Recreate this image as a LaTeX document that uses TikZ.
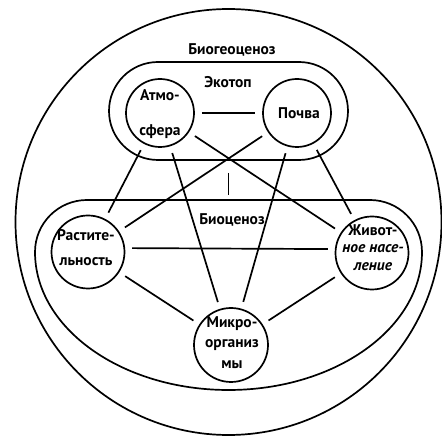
\documentclass[tikz,border=0pt]{standalone}
\usepackage{fontspec}
\setmainfont{PT Sans}
\begin{document}
\begin{tikzpicture}[x=1pt,y=1pt,line width=1.7pt,
  blob/.style={draw,circle,inner sep=0pt},
  txt/.style={font=\fontsize{15.5}{17.5}\selectfont\bfseries,align=center,inner sep=0pt},
  link/.style={shorten >=7pt,shorten <=7pt}]
\useasboundingbox (0,0) rectangle (442,439);
% outer biogeocenosis circle
\node[draw,circle,inner sep=0pt,minimum size=426] (bgc) at (228.5,217) {};
% ecotop
\node[draw,rounded corners=49,minimum width=239,minimum height=98,inner sep=0pt] (eco) at (228.5,328) {};
% biocenosis
\draw (35,187) arc[start angle=180,end angle=90,radius=52] -- (370,239)
  arc[start angle=90,end angle=0,radius=52]
  arc[start angle=0,end angle=-180,x radius=193.5,y radius=138] -- cycle;
\coordinate (bio) at (228.5,239);
% circles
\node[blob,minimum size=68] (atm) at (160,326) {};
\node[blob,minimum size=68] (soil) at (297,326) {};
\node[blob,minimum size=73] (plant) at (88,187) {};
\node[blob,minimum size=73] (anim) at (372,186) {};
\node[blob,minimum size=74] (micro) at (231,94) {};
% texts
\node[txt] (tBgc) at (232,389) {Биогеоценоз};
\node[txt] (tEco) at (228,357) {Экотоп};
\node[txt] (tBio) at (232,219) {Биоценоз};
\node[txt] (tAtm) at (160,324.5) {Атмо-\\[17.5pt]сфера};
\node[txt] (tSoil) at (299,326) {Почва};
\node[txt] (tPlant) at (86,191.5) {Растите-\\[7.5pt]льность};
\node[txt] (tAnim) at (373,191.5) {Живот-\\\itshape ное насе-\\\itshape ление};
\node[txt] (tMic) at (232,96.5) {Микро-\\[3pt]организ\\[3pt]мы};
% links
\draw[link] (atm) -- (soil);
\draw[link] (atm) -- (plant);
\draw[link] (atm) -- (micro);
\draw[link] (atm) -- (anim);
\draw[link] (soil) -- (plant);
\draw[link] (soil) -- (micro);
\draw[link] (soil) -- (anim);
\draw[link] (plant.6) -- (anim.174);
\draw[link] (plant) -- (micro);
\draw[link] (anim) -- (micro);
\draw[shorten <=12pt,shorten >=5pt] (eco.south) -- (bio);
\end{tikzpicture}
\end{document}
